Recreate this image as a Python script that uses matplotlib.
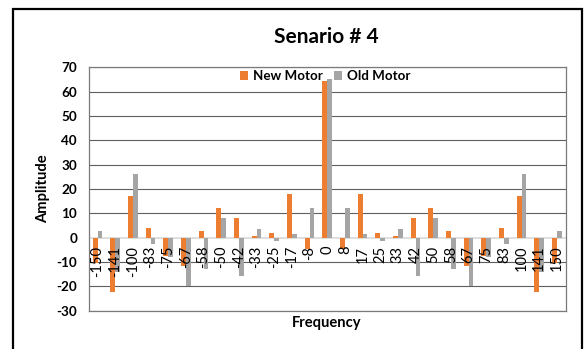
import matplotlib
matplotlib.use("Agg")
import matplotlib.pyplot as plt
import matplotlib.transforms as mtransforms
from matplotlib.patches import Rectangle
import numpy as np

plt.rcParams['font.family'] = ['Lato', 'DejaVu Sans']

# Frequency bins and amplitudes for both motors
categories = ["-150", "-141", "-100", "-83", "-75", "-67", "-58", "-50", "-42",
              "-33", "-25", "-17", "-8", "0", "8", "17", "25", "33", "42",
              "50", "58", "67", "75", "83", "100", "141", "150"]
new_motor = [-10.5, -22.4, 17.1, 3.8, -7.5, -11.6, 2.5, 12.3, 8.2,
             0.6, 1.9, 17.7, -4.7, 64.5, -4.7, 17.7, 1.9, 0.6, 8.2,
             12.3, 2.5, -11.6, -7.5, 3.8, 17.1, -22.4, -10.5]
old_motor = [2.6, -14.0, 26.2, -2.5, -8.0, -20.0, -12.9, 7.9, -16.0,
             3.4, -1.6, 1.5, 12.3, 65.0, 12.3, 1.5, -1.6, 3.4, -16.0,
             7.9, -12.9, -20.0, -8.0, -2.5, 26.2, -14.0, 2.6]
y_ticks = [-30, -20, -10, 0, 10, 20, 30, 40, 50, 60, 70]

W, H = 584, 349
fig = plt.figure(figsize=(W / 100, H / 100), dpi=100)

# outer chart frame (open at the bottom edge of the image)
fig.patches.append(Rectangle((13 / W, -0.05), (582 - 13) / W, 1.05 - 9 / H,
                             transform=fig.transFigure, fill=False,
                             edgecolor='black', linewidth=1.6))

ax = fig.add_axes([88.7 / W, 1 - 310.5 / H, (565.7 - 88.7) / W, (310.5 - 67.3) / H])

x = np.arange(len(categories))
bw = 0.27
ax.bar(x - bw / 2, new_motor, width=bw, color='#ED7D31', label='New Motor', zorder=3)
ax.bar(x + bw / 2, old_motor, width=bw, color='#A5A5A5', label='Old Motor', zorder=3)

ax.set_xlim(-0.5, len(categories) - 0.5)
ax.set_ylim(-30, 70)
ax.set_yticks(y_ticks)
ax.set_yticklabels([str(v) for v in y_ticks], fontsize=9.7, fontweight='bold')
ax.tick_params(axis='y', length=0, pad=8.4)
ax.set_xticks([])

for yv in y_ticks:
    if yv == 0:
        continue
    ax.axhline(yv, color='#5e5e5e', linewidth=0.8, zorder=1)
ax.axhline(0, color='#d9d9d9', linewidth=1.2, zorder=2)

for sp in ax.spines.values():
    sp.set_color('#7a7a7a')
    sp.set_linewidth(0.9)

# category labels sit just under the zero line
lab_tr = mtransforms.offset_copy(ax.transData, fig=fig, x=0, y=-6, units='points')
for xi, lab in zip(x, categories):
    ax.text(xi, 0, lab, transform=lab_tr, rotation=90, ha='center', va='top',
            fontsize=10.5, color='black', zorder=4)

leg = ax.legend(loc='center', bbox_to_anchor=(0.4964, 0.964), ncol=2, frameon=False,
                handlelength=0.6, handleheight=0.6, handletextpad=0.4,
                columnspacing=0.8, prop={'weight': 'bold', 'size': 9.6},
                borderaxespad=0, borderpad=0)

fig.text(326 / W, 1 - 43 / H, 'Senario # 4', ha='center', va='baseline',
         fontsize=15, fontweight='bold')
fig.text(327 / W, 1 - 327.5 / H, 'Frequency', ha='center', va='baseline',
         fontsize=10.6, fontweight='bold')
fig.text(43.5 / W, 1 - 189 / H, 'Amplitude', ha='center', va='center',
         rotation=90, fontsize=10.6, fontweight='bold')

fig.savefig('out.png', dpi=100)
